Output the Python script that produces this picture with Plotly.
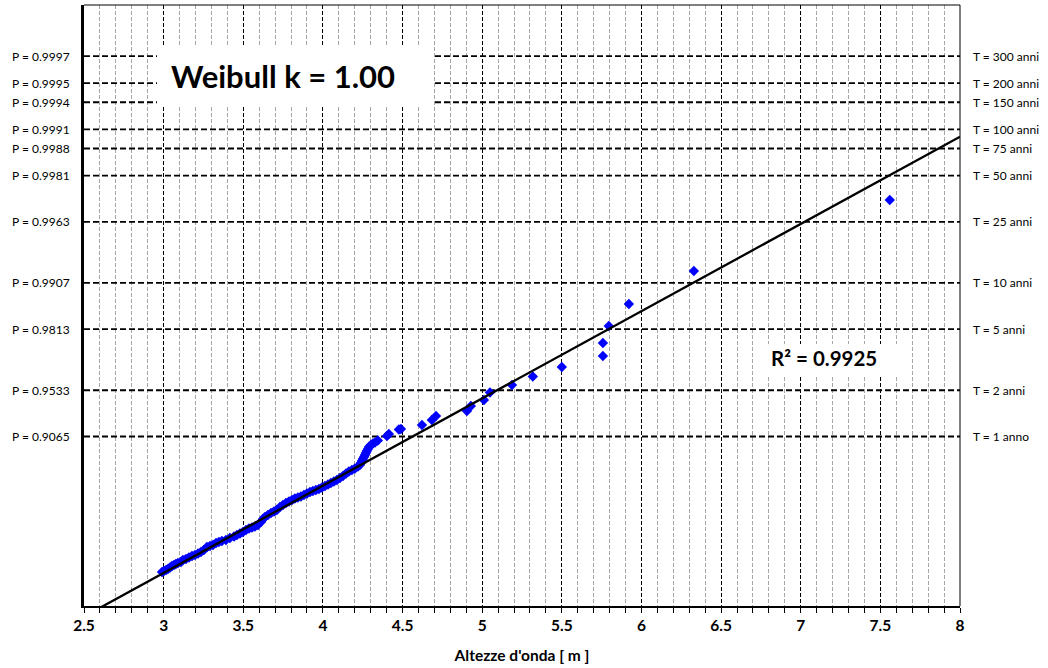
import math
import plotly.graph_objects as go

# ---------------- data ----------------
wave_height_m = [
    2.990, 3.002, 3.015, 3.027, 3.040, 3.052, 3.065, 3.077, 3.090, 3.109, 3.121,
    3.140, 3.159, 3.178, 3.197, 3.216, 3.234, 3.253, 3.272, 3.291, 3.310, 3.329,
    3.347, 3.366, 3.391, 3.416, 3.442, 3.460, 3.479, 3.498, 3.517, 3.536, 3.555,
    3.573, 3.592, 3.611, 3.624, 3.636, 3.655, 3.674, 3.693, 3.711, 3.730, 3.749,
    3.768, 3.787, 3.806, 3.824, 3.843, 3.862, 3.881, 3.900, 3.919, 3.937, 3.956,
    3.975, 3.994, 4.013, 4.032, 4.050, 4.069, 4.088, 4.107, 4.126, 4.145, 4.163,
    4.182, 4.201, 4.220, 4.232, 4.239, 4.245, 4.251, 4.258, 4.264, 4.270, 4.276,
    4.283, 4.289, 4.301, 4.314, 4.327, 4.345, 4.402, 4.414, 4.477, 4.490, 4.622,
    4.684, 4.710, 4.904, 4.929, 5.011, 5.049, 5.187, 5.318, 5.500, 5.758, 5.758,
    5.795, 5.921, 6.329, 7.559,
]
reduced_variate = [
    0.339, 0.353, 0.368, 0.383, 0.406, 0.428, 0.443, 0.458, 0.473, 0.488, 0.518,
    0.533, 0.556, 0.578, 0.593, 0.616, 0.638, 0.668, 0.713, 0.728, 0.743, 0.773,
    0.788, 0.803, 0.818, 0.848, 0.871, 0.893, 0.916, 0.938, 0.968, 0.991, 1.006,
    1.021, 1.043, 1.088, 1.133, 1.163, 1.193, 1.223, 1.246, 1.268, 1.313, 1.343,
    1.373, 1.395, 1.418, 1.440, 1.455, 1.470, 1.493, 1.515, 1.538, 1.553, 1.568,
    1.583, 1.605, 1.628, 1.650, 1.673, 1.695, 1.718, 1.748, 1.778, 1.815, 1.845,
    1.868, 1.890, 1.920, 1.943, 1.973, 2.003, 2.033, 2.063, 2.093, 2.123, 2.153,
    2.183, 2.213, 2.243, 2.265, 2.280, 2.310, 2.377, 2.407, 2.475, 2.482, 2.542,
    2.617, 2.677, 2.752, 2.827, 2.917, 3.030, 3.142, 3.270, 3.412, 3.577, 3.772,
    4.027, 4.357, 4.851, 5.916,
]

# fitted line (reduced variate = slope * H + intercept)
fit_slope = 1.308
fit_intercept = -3.599
x_range = [2.5, 8.0]
y_range = [-0.171, 8.839]

# return-period reference lines
events_per_year = 10.7
return_periods = [300, 200, 150, 100, 75, 50, 25, 10, 5, 2, 1]
p_labels = ["P = 0.9997", "P = 0.9995", "P = 0.9994", "P = 0.9991", "P = 0.9988",
            "P = 0.9981", "P = 0.9963", "P = 0.9907", "P = 0.9813", "P = 0.9533",
            "P = 0.9065"]
t_labels = ["T = 300 anni", "T = 200 anni", "T = 150 anni", "T = 100 anni",
            "T = 75 anni", "T = 50 anni", "T = 25 anni", "T = 10 anni",
            "T = 5 anni", "T = 2 anni", "T = 1 anno"]

title_text = "<b>Weibull k = 1.00</b>"
r2_text = "<b>R² = 0.9925</b>"
x_title = "<b>Altezze d'onda [ m ]</b>"

FONT = "Lato"

fig = go.Figure()

# reference lines drawn as traces (below the markers)
for T in return_periods:
    yv = math.log(events_per_year * T)
    fig.add_trace(go.Scatter(
        x=x_range, y=[yv, yv], mode="lines",
        line=dict(color="black", width=1.8, dash="6px,3px"),
        showlegend=False, hoverinfo="skip",
    ))

fig.add_trace(go.Scatter(
    x=wave_height_m, y=reduced_variate, mode="markers",
    marker=dict(symbol="diamond", size=8, color="#0000FF", line=dict(width=0)),
    showlegend=False, hoverinfo="x+y",
))

fit_x = x_range
fit_y = [fit_slope * v + fit_intercept for v in fit_x]
fig.add_trace(go.Scatter(
    x=fit_x, y=fit_y, mode="lines",
    line=dict(color="black", width=2.3), showlegend=False, hoverinfo="skip",
))

shapes = []
annotations = []
for T, pl, tl in zip(return_periods, p_labels, t_labels):
    yv = math.log(events_per_year * T)
    annotations.append(dict(xref="paper", yref="y", x=0, y=yv, text=pl,
                            xanchor="right", yanchor="middle", xshift=-12,
                            showarrow=False,
                            font=dict(family=FONT, size=12, color="black")))
    annotations.append(dict(xref="paper", yref="y", x=1, y=yv, text=tl,
                            xanchor="left", yanchor="middle", xshift=11,
                            showarrow=False,
                            font=dict(family=FONT, size=12, color="black")))

# white label boxes
shapes.append(dict(type="rect", xref="paper", yref="paper",
                   x0=0.0833, x1=0.3973, y0=0.8303, y1=0.9318,
                   fillcolor="white", line=dict(width=0), layer="above"))
shapes.append(dict(type="rect", xref="paper", yref="paper",
                   x0=0.7667, x1=0.9315, y0=0.3827, y1=0.4359,
                   fillcolor="white", line=dict(width=0), layer="above"))
# top & right frame
shapes.append(dict(type="line", xref="paper", yref="paper", x0=0, x1=1, y0=1, y1=1,
                   line=dict(color="black", width=1), layer="above"))
shapes.append(dict(type="line", xref="paper", yref="paper", x0=1, x1=1, y0=0, y1=1,
                   line=dict(color="black", width=1), layer="above"))

annotations.append(dict(xref="paper", yref="paper", x=0.2277, y=0.8819,
                        text=title_text, showarrow=False, xanchor="center",
                        yanchor="middle",
                        font=dict(family=FONT, size=31, color="black")))
annotations.append(dict(xref="paper", yref="paper", x=0.8453, y=0.4126,
                        text=r2_text, showarrow=False, xanchor="center",
                        yanchor="middle",
                        font=dict(family=FONT, size=20.5, color="black")))

fig.update_layout(
    width=1048, height=668,
    margin=dict(l=84, r=88, t=5, b=62),
    paper_bgcolor="white", plot_bgcolor="white",
    shapes=shapes, annotations=annotations,
    xaxis=dict(
        range=x_range, dtick=0.5, tick0=2.5,
        showgrid=True, gridcolor="black", gridwidth=1, griddash="4px,2px",
        showline=True, linecolor="black", linewidth=1.5,
        ticks="outside", ticklen=5, tickcolor="black", tickwidth=1,
        tickfont=dict(family=FONT, size=15.5, color="black", weight="bold"),
        minor=dict(dtick=0.1, tick0=2.5, showgrid=True, gridcolor="#a6a6a6",
                   gridwidth=1, griddash="4px,2px", ticks="outside", ticklen=5,
                   tickcolor="black", tickwidth=1),
        title=dict(text=x_title, standoff=17,
                   font=dict(family=FONT, size=15.5, color="black")),
        zeroline=False, fixedrange=True,
    ),
    yaxis=dict(
        range=y_range, showgrid=False, zeroline=False, showticklabels=False,
        ticks="", showline=True, linecolor="black", linewidth=2.5,
        fixedrange=True,
    ),
)

fig.write_html("out.html", config={"displayModeBar": False},
               post_script="document.body.style.margin='0';")
